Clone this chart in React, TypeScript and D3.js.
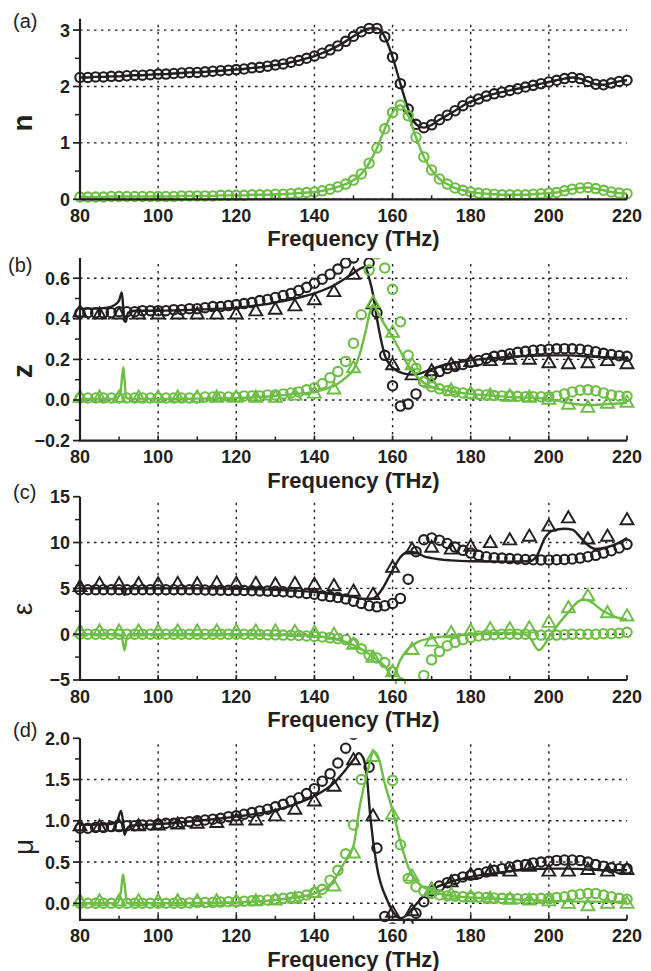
import React from 'react';
import * as d3 from 'd3';

// ---------- sampling grids (THz) ----------
const FREQ_CIRCLE = d3.range(80, 221, 2); // measured points (circles)
const FREQ_TRI = d3.range(80, 221, 5);    // second data set (triangles)

// ---------- (a) refractive index n ----------
const A_N_RE = [
  2.16, 2.16, 2.17, 2.17, 2.18, 2.18, 2.19, 2.20, 2.20, 2.21,
  2.22, 2.22, 2.23, 2.24, 2.25, 2.25, 2.26, 2.27, 2.28, 2.29,
  2.30, 2.31, 2.33, 2.34, 2.36, 2.38, 2.40, 2.43, 2.46, 2.50,
  2.54, 2.59, 2.65, 2.72, 2.80, 2.89, 2.97, 3.03, 3.03, 2.88,
  2.52, 2.05, 1.60, 1.33, 1.27, 1.32, 1.41, 1.49, 1.57, 1.66,
  1.73, 1.78, 1.83, 1.87, 1.90, 1.93, 1.96, 1.99, 2.02, 2.05,
  2.08, 2.11, 2.14, 2.16, 2.14, 2.09, 2.04, 2.03, 2.06, 2.09,
  2.11,
];
const A_N_IM = [
  0.04, 0.04, 0.04, 0.04, 0.05, 0.05, 0.05, 0.05, 0.05, 0.05,
  0.05, 0.05, 0.05, 0.06, 0.06, 0.06, 0.06, 0.06, 0.07, 0.07,
  0.07, 0.07, 0.08, 0.08, 0.08, 0.09, 0.09, 0.10, 0.11, 0.12,
  0.13, 0.15, 0.18, 0.22, 0.27, 0.34, 0.45, 0.64, 0.91, 1.25,
  1.54, 1.67, 1.48, 1.10, 0.75, 0.52, 0.36, 0.27, 0.20, 0.16,
  0.13, 0.11, 0.10, 0.09, 0.08, 0.08, 0.08, 0.08, 0.09, 0.10,
  0.11, 0.12, 0.15, 0.18, 0.20, 0.21, 0.19, 0.16, 0.13, 0.11,
  0.10,
];

// ---------- (b) impedance z ----------
const B_Z_RE = [
  0.43, 0.43, 0.43, 0.43, 0.43, 0.435, 0.435, 0.435, 0.44, 0.44,
  0.44, 0.44, 0.445, 0.445, 0.45, 0.45, 0.455, 0.46, 0.46, 0.465,
  0.47, 0.475, 0.48, 0.49, 0.495, 0.505, 0.515, 0.525, 0.54, 0.555,
  0.575, 0.595, 0.62, 0.645, 0.675, 0.70, 0.74, 0.675, 0.43, 0.22,
  0.07, -0.03, -0.02, 0.03, 0.09, 0.12, 0.14, 0.155, 0.165, 0.175,
  0.185, 0.195, 0.205, 0.215, 0.22, 0.228, 0.235, 0.24, 0.245, 0.248,
  0.25, 0.252, 0.253, 0.252, 0.25, 0.245, 0.238, 0.23, 0.224, 0.218,
  0.215,
];
const B_Z_IM = [
  0.01, 0.01, 0.01, 0.01, 0.01, 0.01, 0.01, 0.01, 0.01, 0.01,
  0.01, 0.01, 0.01, 0.01, 0.01, 0.01, 0.015, 0.015, 0.015, 0.015,
  0.015, 0.02, 0.02, 0.02, 0.025, 0.025, 0.03, 0.035, 0.04, 0.05,
  0.06, 0.08, 0.11, 0.14, 0.19, 0.28, 0.42, 0.64, 0.72, 0.65,
  0.545, 0.385, 0.22, 0.156, 0.09, 0.065, 0.055, 0.045, 0.04, 0.035,
  0.03, 0.028, 0.025, 0.022, 0.02, 0.02, 0.018, 0.016, 0.016, 0.016,
  0.016, 0.02, 0.03, 0.04, 0.048, 0.05, 0.045, 0.035, 0.025, 0.02,
  0.018,
];
const B_TRI_RE = [
  0.43, 0.42, 0.42, 0.42, 0.42, 0.42, 0.42, 0.42, 0.42, 0.435,
  0.443, 0.46, 0.49, 0.53, 0.615, 0.47, 0.17, 0.12, 0.14, 0.17,
  0.185, 0.19, 0.197, 0.197, 0.18, 0.175, 0.18, 0.19, 0.175,
];
const B_TRI_IM = [
  0.01, 0.01, 0.01, 0.01, 0.01, 0.01, 0.01, 0.01, 0.01, 0.01,
  0.01, 0.02, 0.03, 0.05, 0.155, 0.476, 0.33, 0.17, 0.08, 0.045,
  0.03, 0.02, 0.015, 0.01, 0.0, -0.025, -0.04, -0.02, -0.015,
];
const B_LINE_RE: [number, number][] = [
  [80, 0.45], [84, 0.45], [87, 0.455], [89, 0.47], [90, 0.49], [90.7, 0.53], [91, 0.47],
  [91.3, 0.39], [91.7, 0.385], [92.3, 0.43], [94, 0.44], [100, 0.44], [110, 0.445],
  [120, 0.455], [130, 0.48], [135, 0.5], [140, 0.525], [145, 0.565], [148, 0.6],
  [150, 0.625], [152, 0.65], [153, 0.655], [154, 0.6], [155, 0.52], [156, 0.4],
  [157, 0.3], [158, 0.22], [159.5, 0.17], [161, 0.145], [163, 0.13], [165, 0.125],
  [167, 0.13], [169, 0.145], [171, 0.16], [175, 0.18], [180, 0.195], [185, 0.205],
  [190, 0.212], [195, 0.218], [200, 0.22], [205, 0.22], [210, 0.215], [215, 0.21], [220, 0.208],
];
const B_LINE_IM: [number, number][] = [
  [80, 0.005], [89, 0.005], [90.3, 0.03], [90.8, 0.12], [91.1, 0.16], [91.4, 0.1],
  [91.8, 0.01], [93, 0.005], [100, 0.005], [110, 0.007], [120, 0.01], [130, 0.02],
  [135, 0.03], [140, 0.04], [143, 0.055], [146, 0.08], [148, 0.11], [150, 0.15],
  [151.5, 0.22], [153, 0.33], [154.3, 0.44], [155, 0.47], [156, 0.44], [158, 0.37],
  [160, 0.31], [162, 0.24], [164, 0.17], [166, 0.12], [168, 0.085], [170, 0.065],
  [174, 0.045], [180, 0.03], [190, 0.015], [200, 0.005], [205, -0.015], [210, -0.025],
  [215, -0.02], [220, -0.015],
];

// ---------- (c) permittivity epsilon ----------
const C_EPS_RE = [
  4.85, 4.85, 4.85, 4.85, 4.85, 4.85, 4.85, 4.85, 4.85, 4.85,
  4.85, 4.85, 4.85, 4.85, 4.85, 4.85, 4.82, 4.8, 4.8, 4.78,
  4.78, 4.76, 4.74, 4.72, 4.7, 4.67, 4.63, 4.58, 4.52, 4.45,
  4.35, 4.2, 4.1, 4.0, 3.85, 3.6, 3.35, 3.1, 2.98, 3.1,
  3.35, 3.9, 6.0, 9.0, 10.3, 10.5, 10.25, 9.9, 9.5, 9.15,
  8.85, 8.6, 8.45, 8.35, 8.3, 8.25, 8.2, 8.15, 8.12, 8.1,
  8.1, 8.12, 8.15, 8.2, 8.3, 8.45, 8.6, 8.85, 9.1, 9.4,
  9.8,
];
const C_EPS_IM = [
  0, 0, 0, 0, 0, 0, 0, 0, 0, 0,
  0, 0, 0, 0, 0, 0, 0, 0, 0, 0,
  0, 0, -0.02, -0.03, -0.05, -0.07, -0.1, -0.12, -0.15, -0.2,
  -0.25, -0.3, -0.4, -0.5, -0.6, -1.0, -1.6, -2.3, -2.6, -3.1,
  -4.1, -5.3, -7.5, -6.5, -4.5, -2.8, -1.9, -1.25, -0.9, -0.6,
  -0.35, -0.2, -0.1, -0.05, 0, 0, 0, 0, -0.05, -0.1,
  -0.1, -0.1, -0.05, 0, 0, 0, 0, 0.05, 0.05, 0.1,
  0.2,
];
const C_TRI_RE = [
  5.1, 5.4, 5.4, 5.4, 5.4, 5.45, 5.4, 5.5, 5.45, 5.45,
  5.35, 5.45, 5.35, 5.2, 4.6, 4.25, 7.2, 9.2, 9.4, 9.2,
  9.5, 9.9, 10.2, 10.6, 11.7, 12.6, 10.3, 10.6, 12.4,
];
const C_TRI_IM = [
  0.25, 0.25, 0.25, 0.25, 0.25, 0.25, 0.25, 0.25, 0.25, 0.25,
  0.25, 0.2, 0.1, -0.1, -1.2, -2.6, -4.2, -1.75, -0.84, 0.07,
  0.3, 0.5, 0.5, 0.6, 1.2, 2.8, 4.1, 2.26, 1.9,
];
const C_LINE_RE: [number, number][] = [
  [80, 5.0], [89, 5.0], [90.5, 4.95], [91, 4.5], [91.4, 4.3], [91.8, 4.9], [93, 5.0],
  [110, 5.0], [120, 4.95], [130, 4.85], [135, 4.75], [140, 4.6], [145, 4.35],
  [150, 4.05], [153, 3.85], [155, 3.9], [157, 4.7], [160, 7.0], [162, 8.4],
  [164, 9.0], [166, 8.9], [168, 8.5], [170, 8.3], [175, 8.05], [180, 7.95],
  [190, 7.9], [195, 7.95], [197, 8.6], [199, 10.5], [201, 11.3], [204, 11.5],
  [206, 11.4], [208, 10.6], [210, 9.7], [212, 9.3], [215, 9.5], [218, 10.0], [220, 10.5],
];
const C_LINE_IM: [number, number][] = [
  [80, 0.0], [89, 0.0], [90.5, -0.1], [91, -1.0], [91.4, -1.75], [91.8, -0.8],
  [92.5, 0.0], [100, 0.0], [120, 0.0], [130, -0.05], [140, -0.2], [145, -0.5],
  [150, -1.2], [153, -1.9], [156, -2.8], [158, -3.5], [160, -4.6], [162, -2.8],
  [164, -1.6], [166.7, -0.8], [170, -0.45], [176, -0.1], [180, 0.0], [188, 0.1],
  [193, 0.05], [195, -0.3], [197.4, -1.75], [200.5, 0.0], [204.4, 2.1],
  [208.8, 3.8], [210, 3.7], [214, 2.5], [217, 1.9], [220, 1.6],
];

// ---------- (d) permeability mu ----------
const D_MU_RE = [
  0.91, 0.91, 0.92, 0.92, 0.93, 0.93, 0.94, 0.94, 0.95, 0.95,
  0.96, 0.97, 0.97, 0.98, 0.99, 1.0, 1.01, 1.02, 1.03, 1.05,
  1.06, 1.08, 1.1, 1.12, 1.14, 1.17, 1.2, 1.24, 1.28, 1.33,
  1.39, 1.48, 1.57, 1.7, 1.88, 2.05, 2.3, 1.65, 0.67, -0.16,
  -0.3, -0.35, -0.25, -0.12, 0.02, 0.15, 0.21, 0.25, 0.29, 0.32,
  0.34, 0.36, 0.38, 0.4, 0.42, 0.44, 0.46, 0.47, 0.49, 0.5,
  0.51, 0.52, 0.525, 0.525, 0.52, 0.5, 0.47, 0.45, 0.43, 0.42,
  0.42,
];
const D_MU_IM = [
  0, 0, 0, 0, 0, 0, 0, 0, 0, 0,
  0, 0, 0, 0, 0.005, 0.01, 0.01, 0.01, 0.015, 0.02,
  0.02, 0.025, 0.03, 0.035, 0.04, 0.05, 0.06, 0.07, 0.08, 0.1,
  0.13, 0.17, 0.28, 0.4, 0.6, 0.95, 1.5, 2.4, 2.6, 2.3,
  1.49, 0.71, 0.3, 0.2, 0.15, 0.12, 0.1, 0.09, 0.085, 0.08,
  0.08, 0.075, 0.07, 0.065, 0.06, 0.06, 0.055, 0.055, 0.055, 0.06,
  0.06, 0.07, 0.08, 0.1, 0.11, 0.12, 0.12, 0.1, 0.08, 0.06,
  0.05,
];
const D_TRI_RE = [
  0.93, 0.92, 0.93, 0.93, 0.94, 0.95, 0.96, 0.97, 1.0, 1.0,
  1.05, 1.13, 1.23, 1.41, 1.73, 1.05, -0.12, -0.1, 0.16, 0.25,
  0.34, 0.38, 0.38, 0.44, 0.38, 0.38, 0.4, 0.38, 0.4,
];
const D_TRI_IM = [
  0.02, 0.02, 0.02, 0.02, 0.02, 0.02, 0.02, 0.02, 0.02, 0.02,
  0.03, 0.05, 0.12, 0.2, 0.6, 1.77, 1.07, 0.32, 0.16, 0.1,
  0.07, 0.05, 0.04, 0.03, 0.02, -0.01, -0.04, -0.01, -0.01,
];
const D_LINE_RE: [number, number][] = [
  [80, 0.95], [88, 0.96], [89.5, 1.0], [90.5, 1.12], [91, 1.0], [91.4, 0.83],
  [91.8, 0.88], [93, 0.94], [100, 0.96], [110, 1.0], [120, 1.05], [130, 1.13],
  [135, 1.2], [140, 1.3], [145, 1.46], [148, 1.62], [150, 1.74], [151.3, 1.82],
  [152.5, 1.76], [153.5, 1.5], [154.3, 1.05], [156, 0.44], [158.6, 0.04],
  [160.5, -0.13], [162, -0.18], [163.5, -0.15], [165, -0.07], [167, 0.04],
  [170, 0.16], [175, 0.26], [180, 0.32], [185, 0.36], [190, 0.39], [195, 0.41],
  [200, 0.42], [205, 0.42], [210, 0.41], [215, 0.4], [220, 0.4],
];
const D_LINE_IM: [number, number][] = [
  [80, 0.0], [89.5, 0.0], [90.5, 0.15], [91, 0.35], [91.5, 0.2], [92, 0.0],
  [100, 0.0], [120, 0.01], [130, 0.04], [135, 0.07], [140, 0.12], [145, 0.28],
  [147.5, 0.48], [150, 0.7], [151.7, 1.2], [153.6, 1.6], [155.2, 1.84],
  [156.5, 1.75], [158, 1.45], [160, 1.13], [162, 0.75], [164, 0.44],
  [166.5, 0.25], [170, 0.15], [175, 0.09], [180, 0.07], [190, 0.05],
  [200, 0.03], [210, 0.02], [220, 0.02],
];

// ---------- axis ticks ----------
const X_TICKS = [80, 100, 120, 140, 160, 180, 200, 220];
const X_MINOR = [90, 110, 130, 150, 170, 190, 210];
const X_GRID = [100, 120, 140, 160, 180, 200];
const A_TICKS = [0, 1, 2, 3];
const A_MINOR = [0.5, 1.5, 2.5];
const B_TICKS = [-0.2, 0.0, 0.2, 0.4, 0.6];
const B_MINOR = [-0.1, 0.1, 0.3, 0.5];
const C_TICKS = [-5, 0, 5, 10, 15];
const C_MINOR = [-2.5, 2.5, 7.5, 12.5];
const D_TICKS = [0.0, 0.5, 1.0, 1.5, 2.0];
const D_MINOR = [0.25, 0.75, 1.25, 1.75];

const BLACK = '#231f20';
const GREEN = '#6cbe45';
const FONT = '"Liberation Sans", Arial, Helvetica, sans-serif';

const pairs = (xs: number[], ys: number[]) => xs.map((f, i) => [f, ys[i]] as [number, number]);

const panels = [
  {
    key: 'a', label: '(a)', labelX: 13, labelY: 28,
    title: 'n', titleBold: true, titleSize: 28, titleX: 24.5, titleY: 123, titleDy: '0.26em',
    top: 18.8, bottom: 199.3, domain: [0, 3.2], ticks: A_TICKS, minor: A_MINOR, fmt: d3.format('d'),
    circRe: pairs(FREQ_CIRCLE, A_N_RE), circIm: pairs(FREQ_CIRCLE, A_N_IM),
    triRe: null, triIm: null,
    lineRe: pairs(FREQ_CIRCLE, A_N_RE), lineIm: pairs(FREQ_CIRCLE, A_N_IM),
  },
  {
    key: 'b', label: '(b)', labelX: 8, labelY: 272,
    title: 'z', titleBold: true, titleSize: 28, titleX: 24.5, titleY: 371, titleDy: '0.26em',
    top: 257.9, bottom: 440.6, domain: [-0.2, 0.7], ticks: B_TICKS, minor: B_MINOR, fmt: d3.format('.1f'),
    circRe: pairs(FREQ_CIRCLE, B_Z_RE), circIm: pairs(FREQ_CIRCLE, B_Z_IM),
    triRe: pairs(FREQ_TRI, B_TRI_RE), triIm: pairs(FREQ_TRI, B_TRI_IM),
    lineRe: B_LINE_RE, lineIm: B_LINE_IM,
  },
  {
    key: 'c', label: '(c)', labelX: 13, labelY: 499,
    title: 'ε', titleBold: false, titleSize: 28, titleX: 25, titleY: 609, titleDy: '0.26em',
    top: 496.7, bottom: 680, domain: [-5, 15], ticks: C_TICKS, minor: C_MINOR, fmt: d3.format('d'),
    circRe: pairs(FREQ_CIRCLE, C_EPS_RE), circIm: pairs(FREQ_CIRCLE, C_EPS_IM),
    triRe: pairs(FREQ_TRI, C_TRI_RE), triIm: pairs(FREQ_TRI, C_TRI_IM),
    lineRe: C_LINE_RE, lineIm: C_LINE_IM,
  },
  {
    key: 'd', label: '(d)', labelX: 13, labelY: 737,
    title: 'μ', titleBold: false, titleSize: 28, titleX: 27, titleY: 847, titleDy: '0.2em',
    top: 738.3, bottom: 919.8, domain: [-0.2, 2.0], ticks: D_TICKS, minor: D_MINOR, fmt: d3.format('.1f'),
    circRe: pairs(FREQ_CIRCLE, D_MU_RE), circIm: pairs(FREQ_CIRCLE, D_MU_IM),
    triRe: pairs(FREQ_TRI, D_TRI_RE), triIm: pairs(FREQ_TRI, D_TRI_IM),
    lineRe: D_LINE_RE, lineIm: D_LINE_IM,
  },
];

const x = d3.scaleLinear().domain([80, 220]).range([80, 627]);
const triPath = d3.symbol().type(d3.symbolTriangle).size(72)() as string;

function Panel({ p }: { p: any }) {
  const y = d3.scaleLinear().domain(p.domain).range([p.bottom, p.top]);
  const line = d3.line<[number, number]>().x(d => x(d[0])).y(d => y(d[1])).curve(d3.curveMonotoneX);
  const [d0, d1] = p.domain;
  const gridY = p.ticks.filter((t: number) => (t > d0 + 1e-9 && t < d1 - 1e-9) || (t === 0 && d0 === 0));
  const clipId = `clip-${p.key}`;
  const markers = (data: [number, number][] | null, color: string, kind: 'c' | 't') =>
    data ? data.map(([f, v], i) =>
      kind === 'c'
        ? <circle key={i} cx={x(f)} cy={y(v)} r={4.7} fill="none" stroke={color} strokeWidth={2.1} />
        : <path key={i} d={triPath} transform={`translate(${x(f)},${y(v)})`} fill="none" stroke={color} strokeWidth={1.9} />
    ) : null;

  return (
    <g>
      <defs>
        <clipPath id={clipId}>
          <rect x={60} y={p.top} width={590} height={p.bottom - p.top + 4} />
        </clipPath>
      </defs>
      {/* grid */}
      {gridY.map((t: number) => (
        <line key={'gy' + t} x1={80} x2={627} y1={y(t)} y2={y(t)} stroke={BLACK} strokeWidth={1.4} strokeDasharray="2.5,4.5" />
      ))}
      {X_GRID.map(f => (
        <line key={'gx' + f} x1={x(f)} x2={x(f)} y1={p.top + 6} y2={p.bottom} stroke={BLACK} strokeWidth={1.4} strokeDasharray="2.5,4.5" />
      ))}
      {/* data */}
      <g clipPath={`url(#${clipId})`}>
        {markers(p.circRe, BLACK, 'c')}
        {markers(p.triRe, BLACK, 't')}
        <path d={line(p.lineRe) as string} fill="none" stroke={BLACK} strokeWidth={2.4} />
        {markers(p.circIm, GREEN, 'c')}
        {markers(p.triIm, GREEN, 't')}
        <path d={line(p.lineIm) as string} fill="none" stroke={GREEN} strokeWidth={2.4} />
      </g>
      {/* axes */}
      <line x1={80} x2={80} y1={p.top} y2={p.bottom} stroke={BLACK} strokeWidth={2.2} />
      <line x1={79} x2={627} y1={p.bottom} y2={p.bottom} stroke={BLACK} strokeWidth={2.2} />
      {p.ticks.map((t: number) => (
        <g key={'yt' + t}>
          <line x1={73} x2={80} y1={y(t)} y2={y(t)} stroke={BLACK} strokeWidth={1.7} />
          <text x={70} y={y(t)} dy="0.36em" textAnchor="end" fontFamily={FONT} fontWeight="bold" fontSize={18} fill={BLACK}>
            {p.fmt(t)}
          </text>
        </g>
      ))}
      {p.minor.map((t: number) => (
        <line key={'ym' + t} x1={75} x2={80} y1={y(t)} y2={y(t)} stroke={BLACK} strokeWidth={1.5} />
      ))}
      {X_TICKS.map(f => (
        <g key={'xt' + f}>
          <line x1={x(f)} x2={x(f)} y1={p.bottom} y2={p.bottom - 5} stroke={BLACK} strokeWidth={1.7} />
          <text x={x(f)} y={p.bottom + 22.5} textAnchor="middle" fontFamily={FONT} fontWeight="bold" fontSize={18} fill={BLACK}>
            {f}
          </text>
        </g>
      ))}
      {X_MINOR.map(f => (
        <line key={'xm' + f} x1={x(f)} x2={x(f)} y1={p.bottom} y2={p.bottom - 4} stroke={BLACK} strokeWidth={1.5} />
      ))}
      <text x={353.5} y={p.bottom + 47} textAnchor="middle" fontFamily={FONT} fontWeight="bold" fontSize={22} fill={BLACK}>
        Frequency (THz)
      </text>
      <text
        transform={`translate(${p.titleX},${p.titleY}) rotate(-90)`}
        dy={p.titleDy}
        textAnchor="middle"
        fontFamily={FONT}
        fontWeight={p.titleBold ? 'bold' : 'normal'}
        fontSize={p.titleSize}
        fill={BLACK}
      >
        {p.title}
      </text>
      <text x={p.labelX} y={p.labelY} fontFamily={FONT} fontSize={20} fill={BLACK}>
        {p.label}
      </text>
    </g>
  );
}

export default function App() {
  return (
    <svg width={651} height={971} viewBox="0 0 651 971" style={{ position: 'absolute', left: 0, top: 0, background: '#fff' }}>
      <rect x={0} y={0} width={651} height={971} fill="#fff" />
      {panels.map(p => <Panel key={p.key} p={p} />)}
    </svg>
  );
}
